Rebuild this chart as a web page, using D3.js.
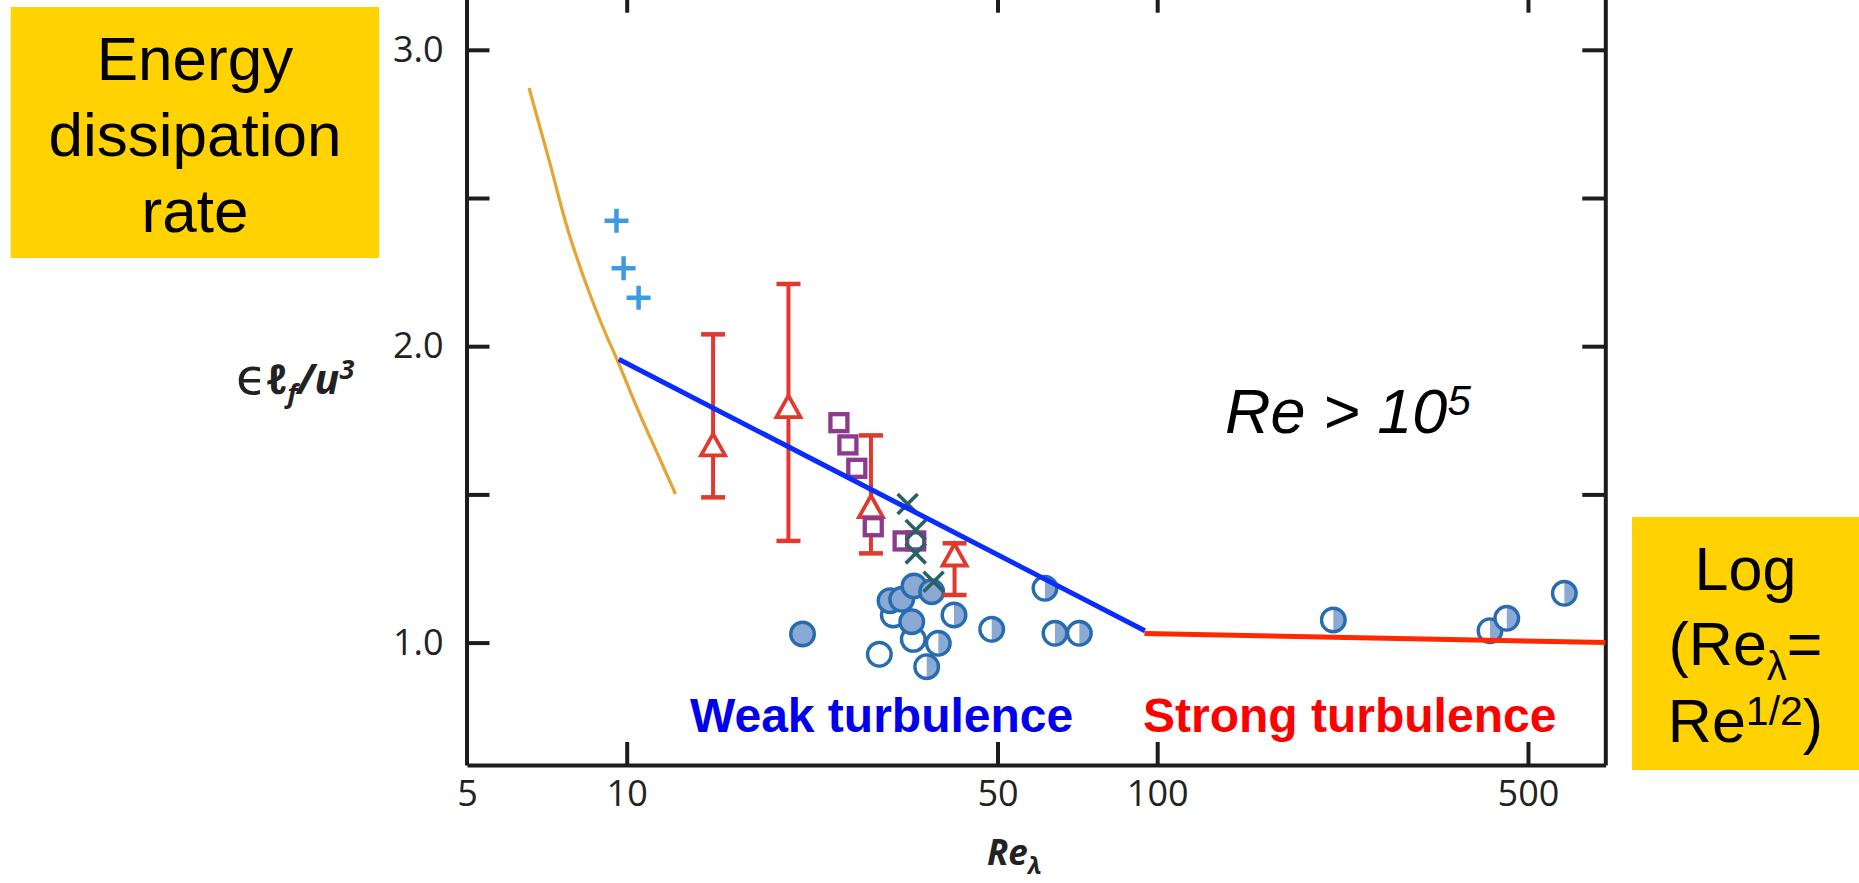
<!DOCTYPE html>
<html>
<head>
<meta charset="utf-8">
<script src="https://cdn.jsdelivr.net/npm/d3@7"></script>
<style>
  html, body { margin: 0; padding: 0; background: #ffffff; }
  svg { display: block; }
</style>
</head>
<body>
<svg id="chart" width="1859" height="883"></svg>
<script>
// Axis ticks
const xTickValues = [5, 10, 50, 100, 500];
const xInnerTicks = [10, 50, 100, 500];
const yTickValues = [1.0, 1.5, 2.0, 2.5, 3.0];
const yRightTicks = [1.5, 2.0, 2.5, 3.0];

// Empirical low-Re curve (orange)
const curveRe  = [6.545, 7.139, 7.718, 8.345, 8.984, 9.630, 10.60, 11.46, 12.36];
const curveEps = [2.871, 2.628, 2.402, 2.220, 2.0715, 1.9467, 1.7679, 1.633, 1.5013];

// Trend lines: weak turbulence (blue) and strong turbulence (red)
const weakRe    = [9.66, 94.8];
const weakEps   = [1.956, 1.040];
const strongRe  = [94.6, 700];
const strongEps = [1.031, 1.000];

// "+" markers
const plusRe  = [9.567, 9.867, 10.53];
const plusEps = [2.4234, 2.2628, 2.1636];

// Triangles with error bars
const triRe  = [14.55, 20.18, 28.87, 41.50];
const triEps = [1.667, 1.796, 1.4585, 1.2955];
const triHi  = [2.040, 2.210, 1.699, 1.335];
const triLo  = [1.490, 1.343, 1.301, 1.1606];

// Open squares
const squareRe  = [25.12, 26.12, 27.15, 29.16, 33.20, 35.06];
const squareEps = [1.742, 1.667, 1.588, 1.391, 1.343, 1.343];

// "x" markers
const crossRe  = [33.85, 35.06, 35.06, 37.89];
const crossEps = [1.4676, 1.380, 1.301, 1.2055];

// Circles: open, full or half filled
const circleRe   = [21.45, 29.94, 31.81, 34.69, 31.36, 32.99, 34.80, 37.58, 34.46, 38.67, 36.77, 41.40, 48.76, 61.44, 64.18, 71.33, 214.8, 424.0, 456.0, 585.5];
const circleEps  = [1.029, 0.9605, 1.0931, 1.011, 1.1414, 1.1461, 1.191, 1.1717, 1.0705, 0.9976, 0.9187, 1.0931, 1.0449, 1.1832, 1.0314, 1.0314, 1.0762, 1.0401, 1.082, 1.1663];
const circleFill = ["full", "open", "open", "open", "full", "full", "full", "full", "full", "half", "half", "half", "half", "half", "half", "half", "half", "half", "half", "half"];

const svg = d3.select("#chart");

const x = d3.scaleLog().domain([5, 700]).range([467, 1605.5]);
const y = d3.scaleLinear().domain([0.587, 3.2028]).range([765, -10.3]);

const AXIS = "#1d1d1d";
const tickFont = "'Open Sans', 'Noto Sans', sans-serif";

// ---- Side boxes ----
svg.append("rect").attr("x", 10.7).attr("y", 7).attr("width", 368.5).attr("height", 251).attr("fill", "#FFD200");
const leftLines = ["Energy", "dissipation", "rate"];
const leftBase = [80, 155.5, 231.5];
svg.append("g").selectAll("text").data(leftLines).join("text")
  .attr("x", 195).attr("y", (d, i) => leftBase[i])
  .attr("text-anchor", "middle")
  .attr("font-family", "'Liberation Sans', Arial, sans-serif")
  .attr("font-size", 62).attr("fill", "#000")
  .text(d => d);

svg.append("rect").attr("x", 1632).attr("y", 517).attr("width", 240).attr("height", 253).attr("fill", "#FFD200");
const rb = svg.append("g")
  .attr("font-family", "'Liberation Sans', Arial, sans-serif")
  .attr("font-size", 61).attr("fill", "#000").attr("text-anchor", "middle");
rb.append("text").attr("x", 1745.5).attr("y", 590).text("Log");
const l2 = rb.append("text").attr("x", 1745.5).attr("y", 665);
l2.append("tspan").text("(Re");
l2.append("tspan").attr("font-size", 40).attr("dy", 15).text("λ");
l2.append("tspan").attr("dy", -15).text("=");
const l3 = rb.append("text").attr("x", 1745.5).attr("y", 742);
l3.append("tspan").text("Re");
l3.append("tspan").attr("font-size", 41).attr("dy", -17).text("1/2");
l3.append("tspan").attr("dy", 17).text(")");

// ---- Axes (frame with inward ticks) ----
function styleAxis(g) {
  g.select(".domain").attr("stroke", AXIS).attr("stroke-width", 4);
  g.selectAll(".tick line").attr("stroke", AXIS).attr("stroke-width", 4);
  g.selectAll(".tick text").attr("fill", "#222").attr("font-family", tickFont).attr("font-size", 36);
}

svg.append("g").attr("transform", "translate(0,765)")
  .call(d3.axisBottom(x).tickValues(xTickValues).tickSize(-23).tickSizeOuter(0).tickPadding(15).tickFormat(d3.format("d")))
  .call(styleAxis)
  .call(g => g.selectAll(".tick").filter(d => d === 5).select("line").remove());

svg.append("g").attr("transform", "translate(0,-10.3)")
  .call(d3.axisTop(x).tickValues(xInnerTicks).tickSize(-23).tickSizeOuter(0).tickFormat(""))
  .call(styleAxis);

svg.append("g").attr("transform", "translate(466.5,0)")
  .call(d3.axisLeft(y).tickValues(yTickValues).tickSize(-23).tickSizeOuter(0).tickPadding(23)
        .tickFormat(d => (Math.abs(d - Math.round(d)) < 1e-9 ? d.toFixed(1) : "")))
  .call(styleAxis);

svg.append("g").attr("transform", "translate(1605.3,0)")
  .call(d3.axisRight(y).tickValues(yRightTicks).tickSize(-23).tickSizeOuter(0).tickFormat(""))
  .call(styleAxis);

// ---- Axis titles ----
const xt = svg.append("text").attr("x", 987).attr("y", 865)
  .attr("font-family", "'Open Sans', 'Noto Sans', sans-serif")
  .attr("font-size", 35).attr("font-weight", "bold").attr("font-style", "italic").attr("fill", "#222");
xt.append("tspan").text("Re");
xt.append("tspan").attr("font-size", 24).attr("dy", 9).text("λ");

const yt = svg.append("text").attr("x", 236).attr("y", 394)
  .attr("font-family", "'Open Sans', 'DejaVu Sans', sans-serif")
  .attr("font-size", 41).attr("font-weight", "bold").attr("font-style", "italic").attr("fill", "#222");
yt.append("tspan").attr("font-weight", "normal").attr("font-style", "normal").attr("font-size", 50).text("ϵ");
yt.append("tspan").text("ℓ");
yt.append("tspan").attr("font-size", 27).attr("dy", 9).text("f");
yt.append("tspan").attr("dy", -9).text("/u");
yt.append("tspan").attr("font-size", 27).attr("dy", -15).text("3");

// ---- Annotations ----
const re5 = svg.append("text").attr("x", 1225).attr("y", 432.7)
  .attr("font-family", "'Liberation Sans', Arial, sans-serif")
  .attr("font-size", 63).attr("font-style", "italic").attr("fill", "#000");
re5.append("tspan").text("Re > 10");
re5.append("tspan").attr("font-size", 42).attr("dy", -18).text("5");

svg.append("text").attr("x", 690).attr("y", 731.5)
  .attr("font-family", "'Liberation Sans', Arial, sans-serif")
  .attr("font-size", 48).attr("font-weight", "bold").attr("fill", "#0000ee")
  .text("Weak turbulence");
svg.append("text").attr("x", 1143).attr("y", 731.5)
  .attr("font-family", "'Liberation Sans', Arial, sans-serif")
  .attr("font-size", 48).attr("font-weight", "bold").attr("fill", "#ff0000")
  .text("Strong turbulence");

// ---- Data marks ----
const line = d3.line().x(d => x(d[0])).y(d => y(d[1])).curve(d3.curveMonotoneX);
const straight = d3.line().x(d => x(d[0])).y(d => y(d[1]));

svg.append("path")
  .attr("d", line(d3.zip(curveRe, curveEps)))
  .attr("fill", "none").attr("stroke", "#e6a532").attr("stroke-width", 3.2);

// Circles
const CR = 11.8;
const circles = svg.append("g").selectAll("g")
  .data(d3.range(circleRe.length)).join("g")
  .attr("transform", i => `translate(${x(circleRe[i])},${y(circleEps[i])})`);
circles.append("circle").attr("r", CR)
  .attr("fill", i => circleFill[i] === "full" ? "#8aaad4" : "#ffffff");
circles.filter(i => circleFill[i] === "half").append("path")
  .attr("d", `M0,${-CR} A${CR},${CR} 0 0 1 0,${CR} Z`).attr("fill", "#8aaad4");
circles.append("circle").attr("r", CR)
  .attr("fill", "none").attr("stroke", "#276cb0").attr("stroke-width", 3.4);

// Error bars with open triangles
const RED = "#e0392d";
const eb = svg.append("g").selectAll("g").data(d3.range(triRe.length)).join("g");
eb.append("line")
  .attr("x1", i => x(triRe[i])).attr("x2", i => x(triRe[i]))
  .attr("y1", i => y(triHi[i])).attr("y2", i => y(triLo[i]))
  .attr("stroke", RED).attr("stroke-width", 4);
eb.append("line")
  .attr("x1", i => x(triRe[i]) - 12).attr("x2", i => x(triRe[i]) + 12)
  .attr("y1", i => y(triHi[i])).attr("y2", i => y(triHi[i]))
  .attr("stroke", RED).attr("stroke-width", 4.5);
eb.append("line")
  .attr("x1", i => x(triRe[i]) - 12).attr("x2", i => x(triRe[i]) + 12)
  .attr("y1", i => y(triLo[i])).attr("y2", i => y(triLo[i]))
  .attr("stroke", RED).attr("stroke-width", 4.5);
eb.append("path")
  .attr("transform", i => `translate(${x(triRe[i])},${y(triEps[i])})`)
  .attr("d", "M0,-11 L12,10.5 L-12,10.5 Z")
  .attr("fill", "#ffffff").attr("stroke", RED).attr("stroke-width", 3.8).attr("stroke-linejoin", "miter");

// Open squares
svg.append("g").selectAll("rect").data(d3.range(squareRe.length)).join("rect")
  .attr("x", i => x(squareRe[i]) - 8.5).attr("y", i => y(squareEps[i]) - 8.5)
  .attr("width", 17).attr("height", 17)
  .attr("fill", "#ffffff").attr("stroke", "#8e3a8c").attr("stroke-width", 4.3);

// "x" markers
svg.append("g").selectAll("path").data(d3.range(crossRe.length)).join("path")
  .attr("transform", i => `translate(${x(crossRe[i])},${y(crossEps[i])})`)
  .attr("d", "M-10,-10L10,10M-10,10L10,-10")
  .attr("stroke", "#2a6166").attr("stroke-width", 3.6).attr("fill", "none");

// "+" markers
svg.append("g").selectAll("path").data(d3.range(plusRe.length)).join("path")
  .attr("transform", i => `translate(${x(plusRe[i])},${y(plusEps[i])})`)
  .attr("d", "M-12,0H12M0,-12V12")
  .attr("stroke", "#3d9be0").attr("stroke-width", 4.5).attr("fill", "none");

// Trend lines
svg.append("path")
  .attr("d", straight(d3.zip(strongRe, strongEps)))
  .attr("fill", "none").attr("stroke", "#ff2800").attr("stroke-width", 5);
svg.append("path")
  .attr("d", straight(d3.zip(weakRe, weakEps)))
  .attr("fill", "none").attr("stroke", "#0a2cff").attr("stroke-width", 5);
</script>
</body>
</html>
